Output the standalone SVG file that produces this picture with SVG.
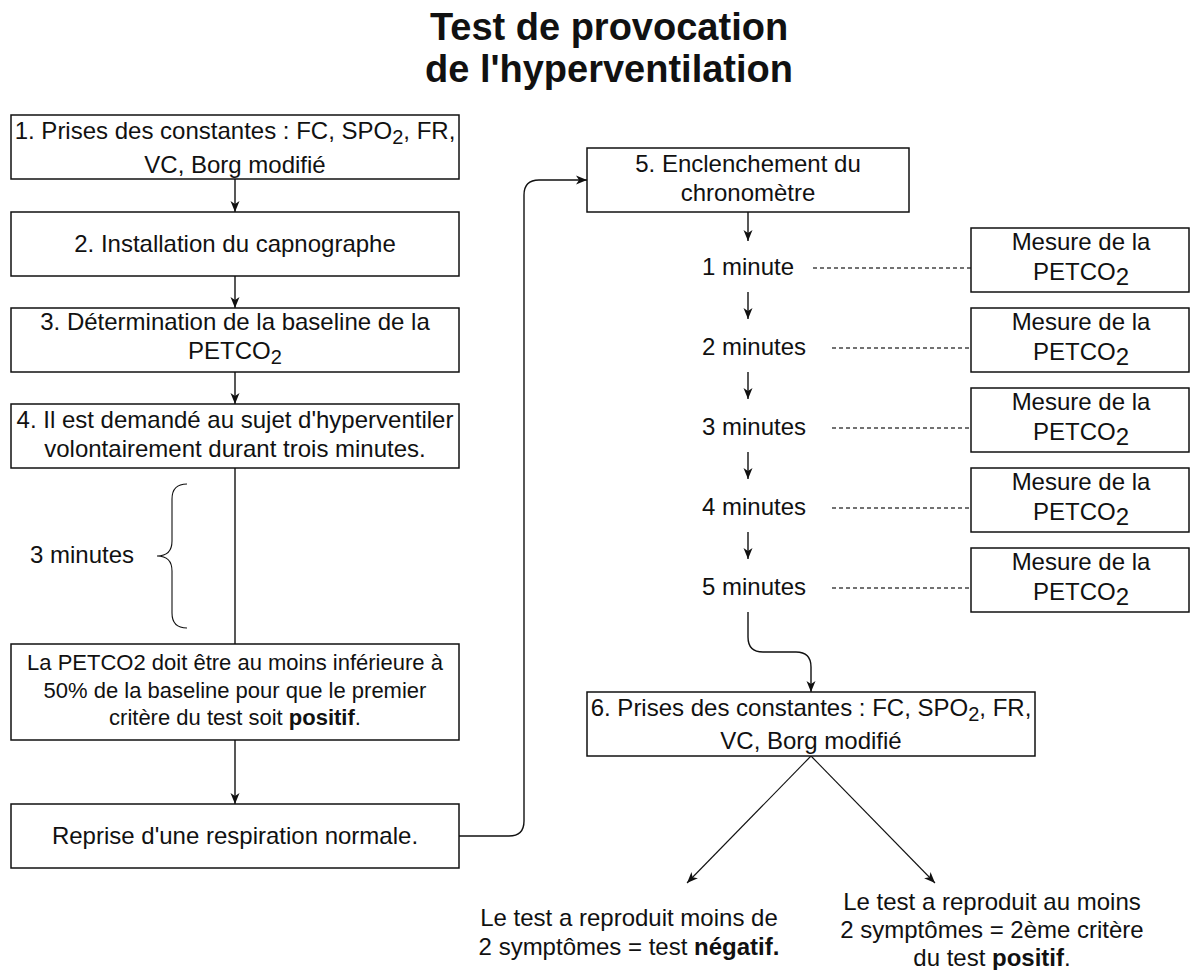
<svg xmlns="http://www.w3.org/2000/svg" width="1190" height="970" viewBox="0 0 1190 970">
<style>
text{font-family:"Liberation Sans",Arial,Helvetica,sans-serif;fill:#111;}
.t{font-size:24px;text-anchor:middle;}
.s{font-size:22px;text-anchor:middle;}
.l{font-size:24px;text-anchor:start;}
.title{font-size:38px;font-weight:bold;text-anchor:middle;}
.box{fill:#fff;stroke:#111;stroke-width:1.5;}
.edge{fill:none;stroke:#111;stroke-width:1.4;}
.thin{fill:none;stroke:#111;stroke-width:1.1;}
.dash{fill:none;stroke:#444;stroke-width:1.5;stroke-dasharray:4 3;}
.b{font-weight:bold;}
</style>
<defs>
<marker id="arr" markerUnits="userSpaceOnUse" markerWidth="12" markerHeight="12" viewBox="0 0 12 12" refX="11" refY="6" orient="auto">
<path d="M0,1.5 L11,6 L0,10.5 L3,6 Z" fill="#111"/>
</marker>
</defs>
<rect width="1190" height="970" fill="#fff"/>
<g id="title">
<text class="title" x="609" y="40">Test de provocation</text>
<text class="title" x="609" y="82">de l'hyperventilation</text>
</g>
<g id="connectors">
<line class="edge" x1="235" y1="179" x2="235" y2="212" marker-end="url(#arr)"/>
<line class="edge" x1="235" y1="276" x2="235" y2="308" marker-end="url(#arr)"/>
<line class="edge" x1="235" y1="372" x2="235" y2="404" marker-end="url(#arr)"/>
<line class="edge" x1="235" y1="468" x2="235" y2="644"/>
<line class="edge" x1="235" y1="740" x2="235" y2="804" marker-end="url(#arr)"/>
<path class="edge" d="M459,836 L509,836 Q524,836 524,821 L524,195 Q524,180 539,180 L587,180" marker-end="url(#arr)"/>
<line class="edge" x1="748" y1="212" x2="748" y2="241" marker-end="url(#arr)"/>
<line class="edge" x1="748" y1="292" x2="748" y2="319" marker-end="url(#arr)"/>
<line class="edge" x1="748" y1="372" x2="748" y2="399" marker-end="url(#arr)"/>
<line class="edge" x1="748" y1="452" x2="748" y2="479" marker-end="url(#arr)"/>
<line class="edge" x1="748" y1="532" x2="748" y2="559" marker-end="url(#arr)"/>
<path class="edge" d="M748,612 L748,637 Q748,652 763,652 L796,652 Q811,652 811,667 L811,692" marker-end="url(#arr)"/>
<line class="dash" x1="813" y1="268" x2="971" y2="268"/>
<line class="dash" x1="832" y1="348" x2="971" y2="348"/>
<line class="dash" x1="832" y1="428" x2="971" y2="428"/>
<line class="dash" x1="832" y1="508" x2="971" y2="508"/>
<line class="dash" x1="832" y1="588" x2="971" y2="588"/>
<line class="thin" x1="811" y1="756" x2="687" y2="883" marker-end="url(#arr)"/>
<line class="thin" x1="811" y1="756" x2="935" y2="883" marker-end="url(#arr)"/>
<path class="thin" d="M187,484 Q172,484 172,499 L172,541 Q172,556 157,556 Q172,556 172,571 L172,613 Q172,628 187,628"/>
</g>
<g id="n1">
<rect class="box" x="11" y="115" width="448" height="64"/>
<text class="t" x="235" y="139">1. Prises des constantes : FC, SPO<tspan font-size="20" dy="5">2</tspan><tspan dy="-5">, FR,</tspan></text>
<text class="t" x="235" y="173">VC, Borg modifié</text>
</g>
<g id="n2">
<rect class="box" x="11" y="212" width="448" height="64"/>
<text class="t" x="235" y="252">2. Installation du capnographe</text>
</g>
<g id="n3">
<rect class="box" x="11" y="308" width="448" height="64"/>
<text class="t" x="235" y="330">3. Détermination de la baseline de la</text>
<text class="t" x="235" y="359">PETCO<tspan font-size="20" dy="5">2</tspan></text>
</g>
<g id="n4">
<rect class="box" x="11" y="404" width="448" height="64"/>
<text class="t" x="235" y="428">4. Il est demandé au sujet d'hyperventiler</text>
<text class="t" x="235" y="457">volontairement durant trois minutes.</text>
</g>
<g id="brace-label">
<text class="l" x="30" y="563">3 minutes</text>
</g>
<g id="n-petco2">
<rect class="box" x="11" y="644" width="448" height="96"/>
<text class="s" x="235" y="670">La PETCO2 doit être au moins inférieure à</text>
<text class="s" x="235" y="698">50% de la baseline pour que le premier</text>
<text class="s" x="235" y="725">critère du test soit <tspan class="b">positif</tspan>.</text>
</g>
<g id="n-reprise">
<rect class="box" x="11" y="804" width="448" height="64"/>
<text class="t" x="235" y="844">Reprise d'une respiration normale.</text>
</g>
<g id="n5">
<rect class="box" x="587" y="148" width="322" height="64"/>
<text class="t" x="748" y="172">5. Enclenchement du</text>
<text class="t" x="748" y="201">chronomètre</text>
</g>
<g id="m1"><text class="l" x="702" y="275">1 minute</text></g>
<g id="m2"><text class="l" x="702" y="355">2 minutes</text></g>
<g id="m3"><text class="l" x="702" y="435">3 minutes</text></g>
<g id="m4"><text class="l" x="702" y="515">4 minutes</text></g>
<g id="m5"><text class="l" x="702" y="595">5 minutes</text></g>
<g id="p1">
<rect class="box" x="971" y="228" width="218" height="64"/>
<text class="t" x="1081" y="250">Mesure de la</text>
<text class="t" x="1081" y="280">PETCO<tspan font-size="24" dy="5">2</tspan></text>
</g>
<g id="p2">
<rect class="box" x="971" y="308" width="218" height="64"/>
<text class="t" x="1081" y="330">Mesure de la</text>
<text class="t" x="1081" y="360">PETCO<tspan font-size="24" dy="5">2</tspan></text>
</g>
<g id="p3">
<rect class="box" x="971" y="388" width="218" height="64"/>
<text class="t" x="1081" y="410">Mesure de la</text>
<text class="t" x="1081" y="440">PETCO<tspan font-size="24" dy="5">2</tspan></text>
</g>
<g id="p4">
<rect class="box" x="971" y="468" width="218" height="64"/>
<text class="t" x="1081" y="490">Mesure de la</text>
<text class="t" x="1081" y="520">PETCO<tspan font-size="24" dy="5">2</tspan></text>
</g>
<g id="p5">
<rect class="box" x="971" y="548" width="218" height="64"/>
<text class="t" x="1081" y="570">Mesure de la</text>
<text class="t" x="1081" y="600">PETCO<tspan font-size="24" dy="5">2</tspan></text>
</g>
<g id="n6">
<rect class="box" x="587" y="692" width="448" height="64"/>
<text class="t" x="811" y="716">6. Prises des constantes : FC, SPO<tspan font-size="20" dy="5">2</tspan><tspan dy="-5">, FR,</tspan></text>
<text class="t" x="811" y="749">VC, Borg modifié</text>
</g>
<g id="neg">
<text class="t" x="629" y="926">Le test a reproduit moins de</text>
<text class="t" x="629" y="955">2 symptômes = test <tspan class="b">négatif.</tspan></text>
</g>
<g id="pos">
<text class="t" x="992" y="910">Le test a reproduit au moins</text>
<text class="t" x="992" y="938">2 symptômes = 2ème critère</text>
<text class="t" x="992" y="966">du test <tspan class="b">positif</tspan>.</text>
</g>
</svg>
